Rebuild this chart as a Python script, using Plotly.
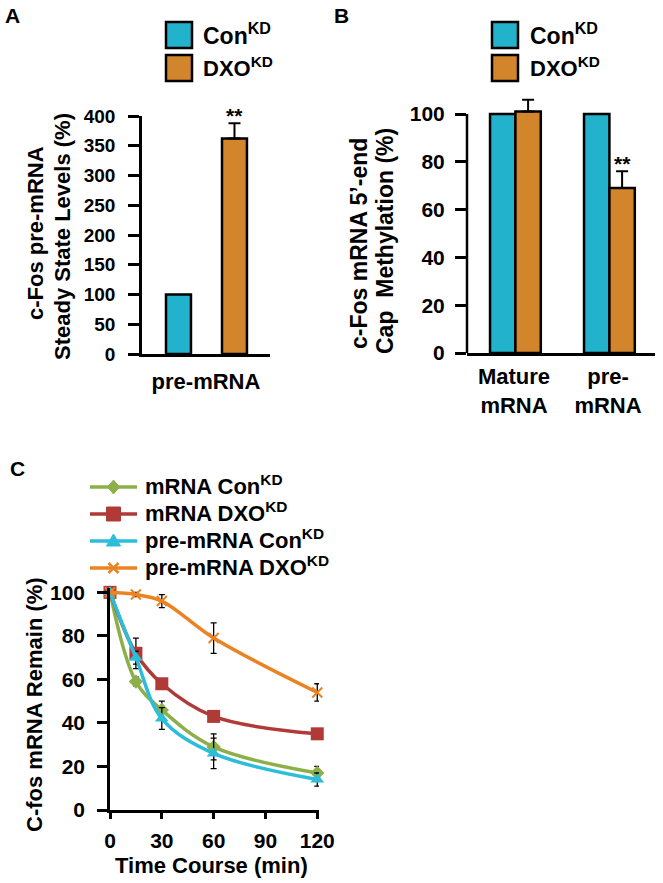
import plotly.graph_objects as go

# ---------------- data ----------------
# Panel A
a_categories = ["pre-mRNA"]
a_con = [100]
a_dxo = [362]
a_dxo_err = [26]
a_ticks = [0, 50, 100, 150, 200, 250, 300, 350, 400]

# Panel B
b_categories = ["Mature<br>mRNA", "pre-<br>mRNA"]
b_con = [100, 100]
b_dxo = [101, 69]
b_dxo_err = [5, 7]
b_ticks = [0, 20, 40, 60, 80, 100]

# Panel C
c_time = [0, 15, 30, 60, 120]
c_mrna_con = [100, 59, 46, 29, 17]
c_mrna_con_err = [0, 2, 4, 6, 3]
c_mrna_dxo = [100, 72, 58, 43, 35]
c_mrna_dxo_err = [0, 7, 2, 1, 1]
c_pre_con = [100, 70, 42, 26, 14]
c_pre_con_err = [0, 3, 5, 7, 3]
c_pre_dxo = [100, 99, 96, 79, 54]
c_pre_dxo_err = [0, 1, 3, 7, 4]
c_xticks = [0, 30, 60, 90, 120]
c_yticks = [0, 20, 40, 60, 80, 100]

# ---------------- styling ----------------
W, H = 663, 883
def PX(x):
    return x / W
def PY(y):
    return 1 - y / H

CYAN_BAR = "#22B2CB"
ORANGE_BAR = "#D3852C"
GREEN = "#8DAF4A"
RED = "#B03A38"
CYAN = "#2BBDDA"
ORANGE = "#EB8322"
FONT = "Liberation Sans, Arial, sans-serif"

def F(size):
    return dict(size=size, family=FONT, color="black", weight="bold")

fig = go.Figure()

# Panel A bars
fig.add_trace(go.Bar(x=a_categories, y=a_con, xaxis="x", yaxis="y",
                     marker=dict(color=CYAN_BAR, line=dict(color="black", width=2.5)),
                     offset=-0.3125, width=0.195, showlegend=False))
fig.add_trace(go.Bar(x=a_categories, y=a_dxo, xaxis="x", yaxis="y",
                     marker=dict(color=ORANGE_BAR, line=dict(color="black", width=2.5)),
                     offset=0.125, width=0.195, showlegend=False,
                     error_y=dict(type="data", array=a_dxo_err, arrayminus=[0] * len(a_dxo_err),
                                  color="black", thickness=2, width=6)))

# Panel B bars
fig.add_trace(go.Bar(x=b_categories, y=b_con, xaxis="x2", yaxis="y2",
                     marker=dict(color=CYAN_BAR, line=dict(color="black", width=2.5)),
                     offset=-0.255, width=0.27, showlegend=False))
fig.add_trace(go.Bar(x=b_categories, y=b_dxo, xaxis="x2", yaxis="y2",
                     marker=dict(color=ORANGE_BAR, line=dict(color="black", width=2.5)),
                     offset=0.015, width=0.27, showlegend=False,
                     error_y=dict(type="data", array=b_dxo_err, arrayminus=[0] * len(b_dxo_err),
                                  color="black", thickness=2, width=6)))

# Panel C lines
series = [
    ("mRNA Con<sup>KD</sup>", c_mrna_con, c_mrna_con_err, GREEN, dict(symbol="diamond", size=11)),
    ("mRNA DXO<sup>KD</sup>", c_mrna_dxo, c_mrna_dxo_err, RED, dict(symbol="square", size=13)),
    ("pre-mRNA Con<sup>KD</sup>", c_pre_con, c_pre_con_err, CYAN, dict(symbol="triangle-up", size=12)),
    ("pre-mRNA DXO<sup>KD</sup>", c_pre_dxo, c_pre_dxo_err, ORANGE,
     dict(symbol="x-thin-open", size=10, line=dict(color=ORANGE, width=2))),
]
for name, ys, errs, col, mk in series:
    m = dict(color=col)
    m.update(mk)
    fig.add_trace(go.Scatter(x=c_time, y=ys, name=name, xaxis="x3", yaxis="y3",
                             mode="lines+markers",
                             line=dict(color=col, width=3.5, shape="spline", smoothing=1),
                             marker=m, cliponaxis=False, showlegend=False,
                             error_y=dict(type="data", array=errs, color="black", thickness=1.3, width=3)))

def axis_common(ts, line=True):
    return dict(showline=line, linecolor="black", linewidth=2.5, showgrid=False, zeroline=False,
                tickfont=F(ts))

B_TOP = 108  # headroom so the bar/error bar above 100 is not clipped
fig.update_layout(
    width=W, height=H,
    margin=dict(l=0, r=0, t=0, b=0, autoexpand=False),
    paper_bgcolor="white", plot_bgcolor="white",
    font=F(22),
    barmode="overlay",
    showlegend=False,
    xaxis=dict(domain=[PX(142), PX(270)], anchor="y", range=[-0.5, 0.5], ticks="",
               ticklabelstandoff=6, **axis_common(22)),
    yaxis=dict(domain=[PY(354), PY(116)], anchor="x", range=[0, 400], tickvals=a_ticks,
               ticks="outside", ticklen=11, tickwidth=2.5, tickcolor="black",
               ticklabelstandoff=9, **axis_common(19)),
    xaxis2=dict(domain=[PX(467), PX(655)], anchor="y2", range=[-0.5, 1.5], ticks="",
                ticklabelstandoff=2, **axis_common(22)),
    yaxis2=dict(domain=[PY(353), PY(353 - 2.39 * B_TOP)], anchor="x2", range=[0, B_TOP], tickvals=b_ticks,
                ticks="outside", ticklen=11, tickwidth=2.5, tickcolor="black",
                ticklabelstandoff=6, **axis_common(21, line=False)),
    xaxis3=dict(domain=[PX(110), PX(319)], anchor="y3", range=[0, 121], tickvals=c_xticks,
                ticks="outside", ticklen=6, tickwidth=2.5, tickcolor="black",
                ticklabelstandoff=4, **axis_common(21)),
    yaxis3=dict(domain=[PY(810), PY(588)], anchor="x3", range=[0, 102], tickvals=c_yticks,
                ticks="outside", ticklen=10, tickwidth=2.5, tickcolor="black",
                ticklabelstandoff=8, **axis_common(21)),
)

shapes = []
annotations = []
# y-axis line of panel B, stopping at the top tick
shapes.append(dict(type="line", xref="paper", yref="y2", x0=PX(467), x1=PX(467),
                   y0=0, y1=b_ticks[-1], line=dict(color="black", width=2.5)))

# manual bar legends (A and B)
for x0, tx in [(166, 201), (492, 528)]:
    for (y0, col, label, fs) in [(22, CYAN_BAR, "Con<sup>KD</sup>", 23), (55, ORANGE_BAR, "DXO<sup>KD</sup>", 22)]:
        shapes.append(dict(type="rect", xref="paper", yref="paper", x0=PX(x0), x1=PX(x0 + 26),
                           y0=PY(y0), y1=PY(y0 + 26), fillcolor=col, line=dict(color="black", width=2.5)))
        annotations.append(dict(xref="paper", yref="paper", x=PX(tx), y=PY(y0 + 12), text=label,
                                showarrow=False, xanchor="left", yanchor="middle", font=F(fs)))

# manual line legend (C)
leg_rows = [487, 514, 541, 568]
lx0, lx1, tx = 90, 137, 143
cx = (lx0 + lx1) / 2
for (name, ys, errs, col, mk), yy in zip(series, leg_rows):
    shapes.append(dict(type="line", xref="paper", yref="paper", x0=PX(lx0), x1=PX(lx1),
                       y0=PY(yy), y1=PY(yy), line=dict(color=col, width=3.5)))
    sym = mk["symbol"]
    if sym == "diamond":
        path = "M {} {} L {} {} L {} {} L {} {} Z".format(PX(cx), PY(yy - 7), PX(cx + 6), PY(yy),
                                                          PX(cx), PY(yy + 7), PX(cx - 6), PY(yy))
        shapes.append(dict(type="path", xref="paper", yref="paper", path=path, fillcolor=col,
                           line=dict(color=col, width=1)))
    elif sym == "square":
        shapes.append(dict(type="rect", xref="paper", yref="paper", x0=PX(cx - 7), x1=PX(cx + 7),
                           y0=PY(yy - 7), y1=PY(yy + 7), fillcolor=col, line=dict(color=col, width=1)))
    elif sym == "triangle-up":
        path = "M {} {} L {} {} L {} {} Z".format(PX(cx), PY(yy - 7), PX(cx + 7), PY(yy + 5),
                                                  PX(cx - 7), PY(yy + 5))
        shapes.append(dict(type="path", xref="paper", yref="paper", path=path, fillcolor=col,
                           line=dict(color=col, width=1)))
    else:
        path = "M {} {} L {} {} M {} {} L {} {}".format(PX(cx - 5), PY(yy - 5), PX(cx + 5), PY(yy + 5),
                                                        PX(cx - 5), PY(yy + 5), PX(cx + 5), PY(yy - 5))
        shapes.append(dict(type="path", xref="paper", yref="paper", path=path,
                           line=dict(color=col, width=2.5)))
    annotations.append(dict(xref="paper", yref="paper", x=PX(tx), y=PY(yy - 2), text=name,
                            showarrow=False, xanchor="left", yanchor="middle", font=F(22)))

# panel letters
for letter, x, y in [("A", 3, 16), ("B", 332, 16), ("C", 8, 468)]:
    annotations.append(dict(xref="paper", yref="paper", x=PX(x), y=PY(y), text=letter, showarrow=False,
                            xanchor="left", yanchor="middle", font=F(21)))

# y-axis titles (each line placed separately)
for text, x, y, fs in [("c-Fos pre-mRNA", 36, 233, 22),
                       ("Steady State Levels (%)", 62, 237, 22),
                       ("c-Fos mRNA 5\u2019-end", 359, 244, 23),
                       ("Cap  Methylation (%)", 385, 241, 23),
                       ("C-fos mRNA Remain (%)", 34, 705, 22)]:
    annotations.append(dict(xref="paper", yref="paper", x=PX(x), y=PY(y), text=text, textangle=-90,
                            showarrow=False, xanchor="center", yanchor="middle", font=F(fs)))
annotations.append(dict(xref="paper", yref="paper", x=PX(212), y=PY(865),
                        text="Time Course (min)", showarrow=False,
                        xanchor="center", yanchor="middle", font=F(22)))

# significance marks
annotations.append(dict(xref="x", yref="y", x=a_categories[0], y=a_dxo[0] + a_dxo_err[0], xshift=28,
                        yshift=-6, text="**", showarrow=False, yanchor="bottom", font=F(21)))
annotations.append(dict(xref="x2", yref="y2", x=b_categories[1], y=b_dxo[1] + b_dxo_err[1], xshift=14,
                        yshift=-6, text="**", showarrow=False, yanchor="bottom", font=F(21)))

fig.update_layout(shapes=shapes, annotations=annotations)
fig.write_html("out.html", config={"displayModeBar": False},
               post_script="document.body.style.margin='0px';document.body.style.overflow='hidden';")
